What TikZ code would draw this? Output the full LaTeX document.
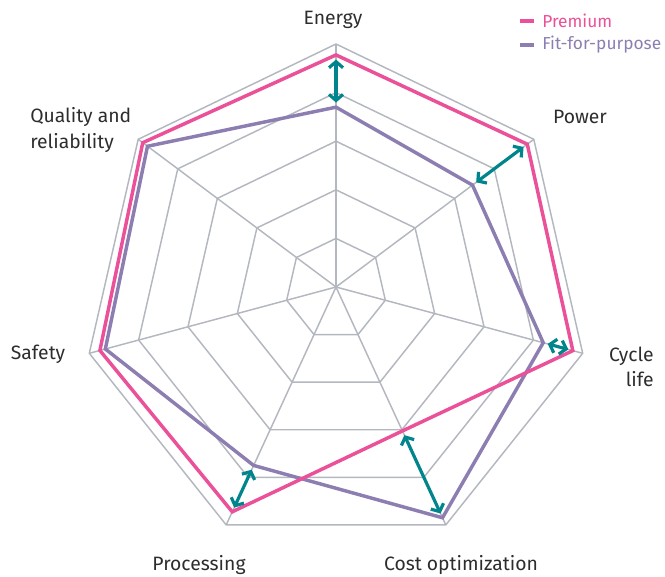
\documentclass[tikz,border=0pt]{standalone}
\usepackage{fontspec}
\setmainfont{Fira Sans}
\usepackage{tikz}
\usetikzlibrary{calc,arrows.meta}

\definecolor{premium}{HTML}{EA5198}
\definecolor{fitpurp}{HTML}{8D7EB2}
\definecolor{gapteal}{HTML}{00858C}
\definecolor{gridgray}{HTML}{B3B7BF}
\definecolor{labeltext}{HTML}{2D2D2D}

\tikzset{
  grid line/.style={draw=gridgray, line width=1.1pt},
  premium line/.style={draw=premium, line width=2.6pt},
  fit line/.style={draw=fitpurp, line width=2.6pt},
  gap arrow/.style={draw=gapteal, line width=2.4pt,
    {Straight Barb[length=4.5pt,width=10.5pt]}-{Straight Barb[length=4.5pt,width=10.5pt]},
    shorten <=3.5pt, shorten >=3.5pt},
  axis label/.style={text=labeltext, font=\fontsize{14.5}{19}\selectfont, inner sep=0pt},
  legend label/.style={font=\fontsize{13}{15}\selectfont, inner sep=0pt, anchor=west},
}

\begin{document}
\begin{tikzpicture}[x=0.75pt, y=-0.75pt]
    \useasboundingbox (0,0) rectangle (665,576);

    \coordinate (c)       at (336,287);
    \coordinate (energy)  at (336,44);
    \coordinate (power)   at (533.8,139.3);
    \coordinate (cycle)   at (582.7,353.3);
    \coordinate (cost)    at (445.8,524.9);
    \coordinate (proc)    at (226.2,524.9);
    \coordinate (safety)  at (89.3,353.3);
    \coordinate (quality) at (138.2,139.3);

    \foreach \k in {0.2,0.4,0.6,0.8,1}
      \draw[grid line] ($(c)!\k!(energy)$) -- ($(c)!\k!(power)$) -- ($(c)!\k!(cycle)$)
        -- ($(c)!\k!(cost)$) -- ($(c)!\k!(proc)$) -- ($(c)!\k!(safety)$)
        -- ($(c)!\k!(quality)$) -- cycle;
    \foreach \v in {energy,power,cycle,cost,proc,safety,quality}
      \draw[grid line] (c) -- (\v);

    % premium
    \coordinate (p1) at ($(c)!0.955!(energy)$);
    \coordinate (p2) at ($(c)!0.967!(power)$);
    \coordinate (p3) at ($(c)!0.96!(cycle)$);
    \coordinate (p4) at ($(c)!0.605!(cost)$);
    \coordinate (p5) at ($(c)!0.945!(proc)$);
    \coordinate (p6) at ($(c)!0.957!(safety)$);
    \coordinate (p7) at ($(c)!0.977!(quality)$);
    % fit-for-purpose
    \coordinate (f1) at ($(c)!0.74!(energy)$);
    \coordinate (f2) at ($(c)!0.69!(power)$);
    \coordinate (f3) at ($(c)!0.84!(cycle)$);
    \coordinate (f4) at ($(c)!0.97!(cost)$);
    \coordinate (f5) at ($(c)!0.75!(proc)$);
    \coordinate (f6) at ($(c)!0.935!(safety)$);
    \coordinate (f7) at ($(c)!0.953!(quality)$);

    \draw[fit line] (f1) -- (f2) -- (f3) -- (f4) -- (f5) -- (f6) -- (f7) -- cycle;
    \draw[premium line] (p1) -- (p2) -- (p3) -- (p4) -- (p5) -- (p6) -- (p7) -- cycle;

    \draw[gap arrow] (p1) -- (f1);
    \draw[gap arrow] (p2) -- (f2);
    \draw[gap arrow] (p3) -- (f3);
    \draw[gap arrow] (p4) -- (f4);
    \draw[gap arrow] (p5) -- (f5);

    \node[axis label] (energy label) at (333,20) {Energy};
    \node[axis label] (power label) at (580,117) {Power};
    \node[axis label, align=right, anchor=east] (cycle label) at (654,367) {Cycle\\life};
    \node[axis label] (cost label) at (461,565) {Cost optimization};
    \node[axis label] (proc label) at (199,565) {Processing};
    \node[axis label] (safety label) at (38,354) {Safety};
    \node[axis label, align=left, anchor=west] (quality label) at (30,130) {Quality and\\reliability};

    \node[legend label, text=premium] (prem key) at (542,21) {Premium};
    \node[legend label, text=fitpurp] (fit key) at (542,45) {Fit-for-purpose};
    \draw[premium line] ([xshift=-16.5pt]prem key.west) -- ([xshift=-6pt]prem key.west);
    \draw[fit line] ([xshift=-16.5pt]fit key.west) -- ([xshift=-6pt]fit key.west);
\end{tikzpicture}
\end{document}
